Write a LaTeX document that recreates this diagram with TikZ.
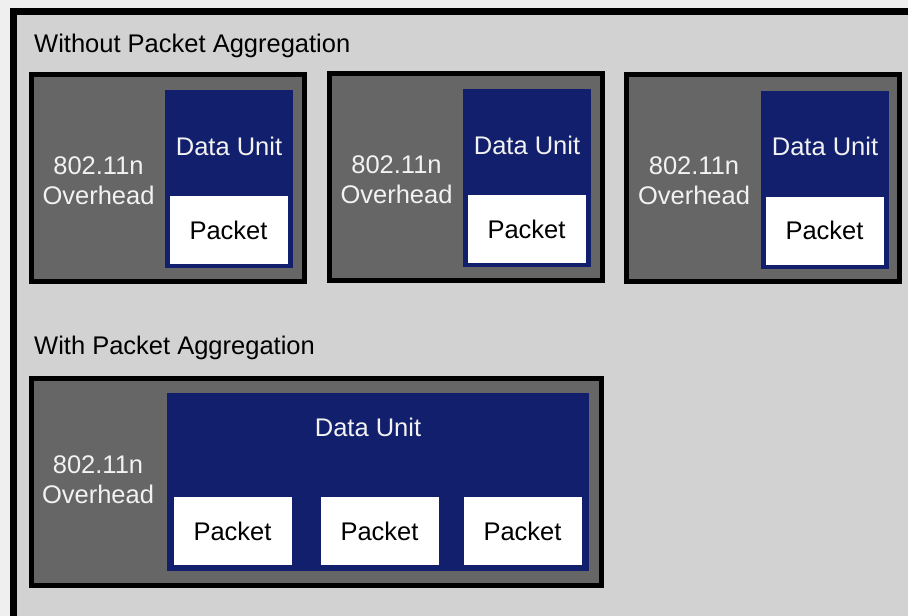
\documentclass[tikz,border=0pt]{standalone}
\usepackage{fontspec}
\setmainfont{Liberation Sans}
\definecolor{pagebg}{HTML}{EFEFEF}
\definecolor{panelbg}{HTML}{D2D2D2}
\definecolor{ohgray}{HTML}{666666}
\definecolor{unitblue}{HTML}{111F6C}
\definecolor{softwhite}{HTML}{F2F2F2}
\tikzset{
	every node/.style={font=\fontsize{25.5}{30}\selectfont},
	heading/.style={
		anchor=base west,
		inner sep=0pt,
		text=black,
	},
	panel/.style={
		draw=black,
		line width=7pt,
		fill=panelbg,
	},
	frame/.style={
		draw=black,
		line width=5pt,
		fill=ohgray,
		minimum height=207pt,
		inner sep=0pt,
	},
	dataunit/.style={
		fill=unitblue,
		minimum height=178pt,
		inner sep=0pt,
	},
	packet/.style={
		fill=white,
		text=black,
		minimum width=118pt,
		minimum height=68pt,
		inner sep=0pt,
	},
	overhead/.style={
		align=center,
		text=softwhite,
		inner sep=0pt,
	},
	unitlbl/.style={
		text=softwhite,
		inner sep=0pt,
	},
}

\begin{document}
\begin{tikzpicture}[x=1pt,y=-1pt]
	\useasboundingbox (0,0) rectangle (908,616);
	\fill[pagebg] (0,0) rectangle (908,616);
	\clip (0,0) rectangle (908,616);
	\draw[panel] (13,11.5) rectangle (940,650);

	% without aggregation
	\node[heading] 					(titleA) at (34,52) {Without Packet Aggregation};

	\node[frame,minimum width=273pt] 		(frameA) at (168,178) {};
	\node[dataunit,minimum width=128pt] 	(unitA) at (229,179) {};
	\node[packet] 						(pktA) at (228.5,230) {Packet};
	\node[unitlbl] 						(lblA) at (229,146) {Data Unit};
	\node[overhead] 					(ohA) at (98.5,181) {802.11n\\Overhead};

	\node[frame,minimum width=273pt] 		(frameB) at (466,177) {};
	\node[dataunit,minimum width=128pt] 	(unitB) at (527,178) {};
	\node[packet] 						(pktB) at (526.5,229) {Packet};
	\node[unitlbl] 						(lblB) at (527,145) {Data Unit};
	\node[overhead] 					(ohB) at (396.5,180) {802.11n\\Overhead};

	\node[frame,minimum width=273pt] 		(frameC) at (763,178) {};
	\node[dataunit,minimum width=128pt] 	(unitC) at (825,179.5) {};
	\node[packet] 						(pktC) at (824.5,230.5) {Packet};
	\node[unitlbl] 						(lblC) at (825,146) {Data Unit};
	\node[overhead] 					(ohC) at (694,181) {802.11n\\Overhead};

	% with aggregation
	\node[heading] 					(titleD) at (34,354) {With Packet Aggregation};

	\node[frame,minimum width=570pt] 		(frameD) at (316.5,482) {};
	\node[dataunit,minimum width=422pt] 	(unitD) at (378,482) {};
	\node[packet] 						(pktD1) at (232.5,531) {Packet};
	\node[packet] 						(pktD2) at (379.5,531) {Packet};
	\node[packet] 						(pktD3) at (522.5,531) {Packet};
	\node[unitlbl] 						(lblD) at (368,427) {Data Unit};
	\node[overhead] 					(ohD) at (98,480) {802.11n\\Overhead};
\end{tikzpicture}
\end{document}
